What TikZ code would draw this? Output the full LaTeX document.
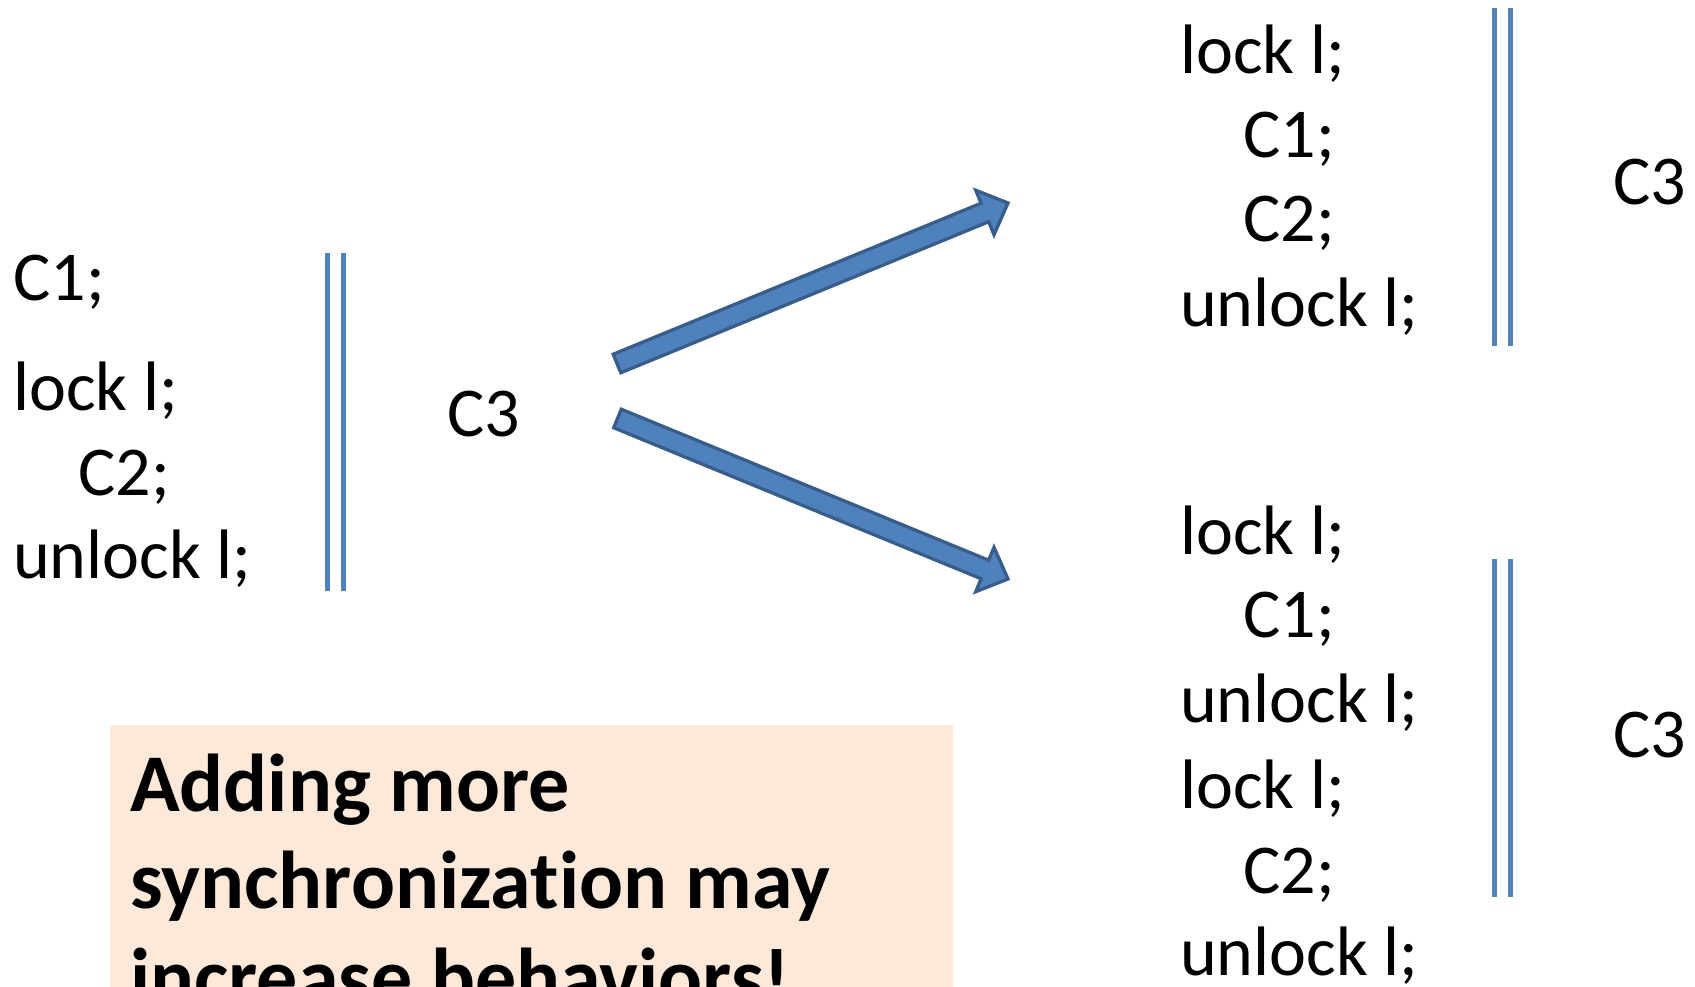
\documentclass[tikz,border=0pt]{standalone}
\usepackage{fontspec}
\setmainfont[Ligatures=NoCommon]{Carlito}
\usetikzlibrary{calc}

\definecolor{barblue}{HTML}{4F81BD}
\definecolor{arrowfill}{HTML}{4F81BD}
\definecolor{arrowedge}{HTML}{385D8A}
\definecolor{notefill}{HTML}{FDE9D9}

\tikzset{
  code/.style={anchor=base west, inner sep=0pt, font=\fontsize{70}{84}\selectfont},
  notetext/.style={anchor=base west, inner sep=0pt, font=\fontsize{82}{97}\selectfont\bfseries},
  parbar/.style={draw=barblue, line width=5pt},
  fatarrow/.style={fill=arrowfill, draw=arrowedge, line width=3.3pt, line join=miter},
}

% block arrow from tail #1 to tip #2
\newcommand{\blockarrow}[2]{%
  \coordinate (neck) at ($(#2)!25pt!(#1)$);
  \path[fatarrow]
    ($(#1)!10pt!90:(#2)$) -- ($(neck)!10pt!-90:(#1)$)
    -- ($(neck)!24pt!-90:(#1)$) -- (#2)
    -- ($(neck)!24pt!90:(#1)$) -- ($(neck)!10pt!90:(#1)$)
    -- ($(#1)!10pt!-90:(#2)$) -- cycle;
}

\begin{document}
\begin{tikzpicture}[x=1pt,y=-1pt]
\clip (0,0) rectangle (1695,987);

% original program
\node[code] (a1) at (13,300) {C1;};
\node[code] (a2) at (13,410) {lock l;};
\node[code] (a3) at (78,495) {C2;};
\node[code] (a4) at (13,578) {unlock l;};
\draw[parbar] (327,253) -- (327,591);
\draw[parbar] (343.5,253) -- (343.5,591);
\node[code] (a5) at (447,436) {C3};

% first transformed program
\node[code] (b1) at (1180,74) {lock l;};
\node[code] (b2) at (1243,158) {C1;};
\node[code] (b3) at (1243,242) {C2;};
\node[code] (b4) at (1180,326) {unlock l;};
\draw[parbar] (1494,8) -- (1494,346);
\draw[parbar] (1510.5,8) -- (1510.5,346);
\node[code] (b5) at (1613,205) {C3};

% second transformed program
\node[code] (c1) at (1180,554) {lock l;};
\node[code] (c2) at (1243,637) {C1;};
\node[code] (c3) at (1180,722) {unlock l;};
\node[code] (c4) at (1180,808) {lock l;};
\node[code] (c5) at (1243,893) {C2;};
\node[code] (c6) at (1180,975) {unlock l;};
\draw[parbar] (1494,559) -- (1494,897);
\draw[parbar] (1510.5,559) -- (1510.5,897);
\node[code] (c7) at (1613,757) {C3};

% arrows
\coordinate (upTail) at (617,363.5);
\coordinate (upTip) at (1008,203);
\coordinate (dnTail) at (617.5,418.5);
\coordinate (dnTip) at (1008,579);
\blockarrow{upTail}{upTip}
\blockarrow{dnTail}{dnTip}

% note
\fill[notefill] (110,725) rectangle (953,1000);
\node[notetext] (n1) at (130,811) {Adding more};
\node[notetext] (n2) at (130,908) {synchronization may};
\node[notetext] (n3) at (130,1005) {increase behaviors!};
\end{tikzpicture}
\end{document}
